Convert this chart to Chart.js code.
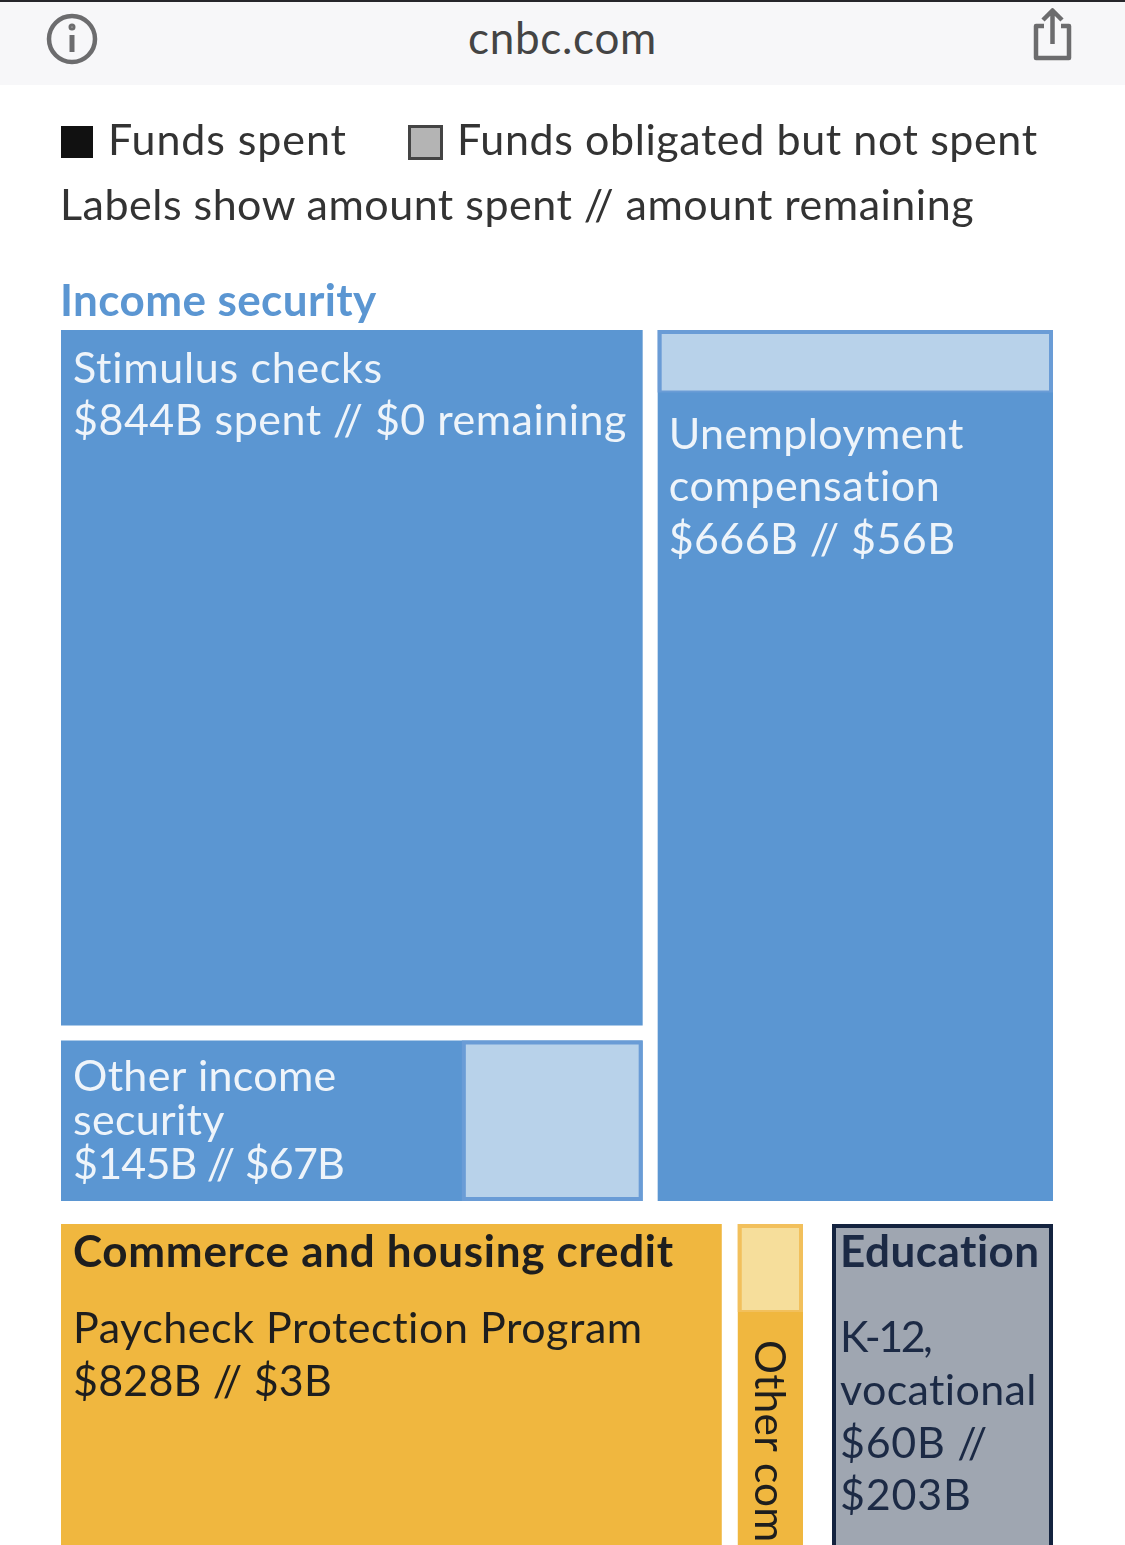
<!DOCTYPE html>
<html>
<head>
<meta charset="utf-8">
<title>Funds spent</title>
<script src="https://cdn.jsdelivr.net/npm/chart.js@4/dist/chart.umd.js"></script>
<style>
  html, body { margin: 0; padding: 0; background: #fff; }
  body { width: 1125px; height: 1545px; overflow: hidden; position: relative; font-family: Lato, sans-serif; }
  #wrap { position: absolute; left: 0; top: 0; width: 1125px; height: 1545px; }
  .bar { position: absolute; left: 0; top: 0; width: 1125px; height: 85px; background: #f7f7f9; border-top: 2px solid #26262b; box-sizing: border-box; }
  .site { position: absolute; left: 0; width: 1125px; top: 12px; text-align: center; font-size: 44px; line-height: 50px; letter-spacing: 0.7px; color: #444; }
  .txt { position: absolute; white-space: nowrap; font-size: 43px; line-height: 50px; color: #333; }
  .swatch { position: absolute; box-sizing: border-box; }
  svg { position: absolute; left: 0; top: 0; }
</style>
</head>
<body>
<div id="wrap"><canvas id="chart" width="1125" height="1545"></canvas></div>
<div class="bar"></div>
<div class="site">cnbc.com</div>
<svg width="1125" height="85" fill="none" stroke="#6c6c6e" stroke-width="4.5" stroke-linejoin="round">
  <circle cx="72" cy="39" r="23"/>
  <path d="M72 35v17" stroke-width="5"/>
  <circle cx="72" cy="27" r="2" stroke-width="3"/>
  <path d="M1044 26h-8v32h33v-32h-8M1052.500 44v-32M1043 20l9.500-9.500 9.500 9.500"/>
</svg>
<div class="swatch" style="left:61px;top:126px;width:32px;height:32px;background:#111"></div>
<div class="txt" style="left:108px;top:114px;letter-spacing:0.9px">Funds spent</div>
<div class="swatch" style="left:408px;top:125px;width:35px;height:35px;background:#b4b4b4;border:3px solid #444"></div>
<div class="txt" style="left:457px;top:114px;letter-spacing:0.6px">Funds obligated but not spent</div>
<div class="txt" style="left:60px;top:179px;letter-spacing:0.5px">Labels show amount spent // amount remaining</div>
<div class="txt" style="left:60px;top:274px;font-size:44px;font-weight:700;letter-spacing:0.4px;color:#5b96d2">Income security</div>

<script>
// values in $B
const incomeNames = ["Stimulus checks", "Unemployment compensation", "Other income security"];
const incomeSpent = [844, 666, 145];
const incomeRemaining = [0, 56, 67];

const commerceNames = ["Paycheck Protection Program", "Other commerce"];
const commerceSpent = [828, 77]; // second one is estimated, label is cut off
const commerceRemaining = [3, 14];

const educationNames = ["K-12, vocational"];
const educationSpent = [60];
const educationRemaining = [203];

const colors = {
  income: { full: "#5b96d2", light: "#b8d2ea", edge: "#6a9cd6", text: "#eef4fa" },
  commerce: { full: "#f0b73f", light: "#f6de9b", edge: "#f2c05c", text: "#1e1e1e" },
  education: { full: "#14233f", light: "#9fa6b1", edge: "#14233f", text: "#1c2a45" }
};

const GAP = 7.5;    // half the white gap between cells
const INSET = 4;    // edge kept around the pale part
const PALE_TRIM = 7;

const total = (i, s, r) => s[i] + r[i];
const datasets = [];

function addRect(x0, y0, x1, y1, color) {
  // path runs left to right so the fill is not clipped away, closing edge comes from the fill
  datasets.push({
    data: [{ x: x0, y: y1 }, { x: x0, y: y0 }, { x: x1, y: y0 }, { x: x1, y: y1 }],
    showLine: true, fill: "shape", backgroundColor: color,
    borderWidth: 0, pointRadius: 0, tension: 0
  });
}

function addCell(c, spent, remaining, pal) {
  addRect(c.x0, c.y0, c.x1, c.y1, pal.full);
  if (!remaining) return;
  const w = c.x1 - c.x0, h = c.y1 - c.y0, share = remaining / (spent + remaining);
  const wide = w > h;
  const cut = (wide ? w : h) * share - PALE_TRIM;
  if (cut <= 0) return;
  if (pal.edge !== pal.full) {
    if (wide) addRect(c.x1 - cut - INSET, c.y0, c.x1, c.y1, pal.edge);
    else addRect(c.x0, c.y0, c.x1, c.y0 + cut + 2, pal.edge);
  }
  if (wide) addRect(c.x1 - cut, c.y0 + INSET, c.x1 - INSET, c.y1 - INSET, pal.light);
  else addRect(c.x0 + INSET, c.y0 + INSET, c.x1 - INSET, c.y0 + cut, pal.light);
}

// income security: left column stimulus over other, unemployment on the right
const inc = { x0: 61, x1: 1053, y0: 330, y1: 1201 };
const incTotals = incomeNames.map((_, i) => total(i, incomeSpent, incomeRemaining));
const incAll = incTotals[0] + incTotals[1] + incTotals[2];
const colSplit = inc.x0 + (inc.x1 - inc.x0) * (incTotals[0] + incTotals[2]) / incAll;
const rowSplit = inc.y0 + (inc.y1 - inc.y0 + 8.6) * incTotals[0] / (incTotals[0] + incTotals[2]);
const stimulus = { x0: inc.x0, x1: colSplit - GAP, y0: inc.y0, y1: rowSplit - GAP };
const unemployment = { x0: colSplit + GAP, x1: inc.x1, y0: inc.y0, y1: inc.y1 };
const otherIncome = { x0: inc.x0, x1: colSplit - GAP, y0: rowSplit + GAP, y1: inc.y1 };
addCell(stimulus, incomeSpent[0], incomeRemaining[0], colors.income);
addCell(unemployment, incomeSpent[1], incomeRemaining[1], colors.income);
addCell(otherIncome, incomeSpent[2], incomeRemaining[2], colors.income);

// commerce and education run off the bottom of the screenshot
const PER_BILLION = 486; // px area per $B, same as the income block
const com = { x0: 61, x1: 803, y0: 1224 };
const comTotals = commerceNames.map((_, i) => total(i, commerceSpent, commerceRemaining));
const comAll = comTotals[0] + comTotals[1];
com.y1 = com.y0 + comAll * PER_BILLION / (com.x1 - com.x0);
const comSplit = com.x0 + (com.x1 - com.x0) * comTotals[0] / comAll;
const ppp = { x0: com.x0, x1: comSplit - 8, y0: com.y0, y1: com.y1 };
const otherCommerce = { x0: comSplit + 8, x1: com.x1, y0: com.y0, y1: com.y1 };
addCell(ppp, commerceSpent[0], commerceRemaining[0], colors.commerce);
addCell(otherCommerce, commerceSpent[1], commerceRemaining[1], colors.commerce);

const edu = { x0: 832, x1: 1053, y0: 1224 };
edu.y1 = edu.y0 + total(0, educationSpent, educationRemaining) * PER_BILLION / (edu.x1 - edu.x0);
addCell(edu, educationSpent[0], educationRemaining[0], colors.education);

const FONT = "Lato, sans-serif";
// each line: text, baseline below the cell top, letter spacing, weight
const cellLabels = [
  { cell: stimulus, color: colors.income.text, dx: 12, lines: [[incomeNames[0], 53, 0.7], ["$844B spent // $0 remaining", 105, 0.5]] },
  { cell: unemployment, color: colors.income.text, dx: 11, lines: [["Unemployment", 119, 0.4], ["compensation", 171, 0.6], ["$666B // $56B", 224, 0.4]] },
  { cell: otherIncome, color: colors.income.text, dx: 12, lines: [["Other income", 50, 0.3], ["security", 94, 0.3], ["$145B // $67B", 138, -0.8]] },
  { cell: ppp, color: colors.commerce.text, dx: 12, lines: [["Commerce and housing credit", 43, 0.7, 700], ["Paycheck Protection Program", 119, 0.55], ["$828B // $3B", 172, 0.2]] },
  { cell: edu, color: colors.education.text, dx: 8, lines: [["Education", 43, 0.5, 700], ["K-12,", 128, -2.5], ["vocational", 181, 0.35], ["$60B //", 234, 0.7], ["$203B", 286, 0.8]] }
];

const labelPlugin = {
  id: "cellLabels",
  afterDatasetsDraw(chart) {
    const { ctx, scales: { x, y } } = chart;
    ctx.save();
    ctx.textBaseline = "alphabetic";
    for (const l of cellLabels) {
      ctx.fillStyle = l.color;
      for (const [text, dy, spacing, weight] of l.lines) {
        ctx.font = weight ? weight + " 44px " + FONT : "400 43px " + FONT;
        ctx.letterSpacing = spacing + "px";
        ctx.fillText(text, x.getPixelForValue(l.cell.x0 + l.dx), y.getPixelForValue(l.cell.y0 + dy));
      }
    }
    // the other commerce label is turned on its side
    ctx.translate(x.getPixelForValue(otherCommerce.x0 + 17), y.getPixelForValue(otherCommerce.y0 + 116));
    ctx.rotate(Math.PI / 2);
    ctx.font = "400 42.5px " + FONT;
    ctx.letterSpacing = "0.2px";
    ctx.fillStyle = colors.commerce.text;
    ctx.fillText("Other com", 0, 0);
    ctx.restore();
  }
};

new Chart(document.getElementById("chart"), {
  type: "scatter",
  data: { datasets: datasets.reverse() }, // first dataset is painted last
  options: {
    responsive: false,
    animation: false,
    layout: { padding: 0 },
    plugins: { legend: { display: false }, tooltip: { enabled: false } },
    scales: {
      x: { type: "linear", display: false, min: 0, max: 1125 },
      y: { type: "linear", display: false, min: 0, max: 1545, reverse: true }
    }
  },
  plugins: [labelPlugin]
});
</script>
</body>
</html>
